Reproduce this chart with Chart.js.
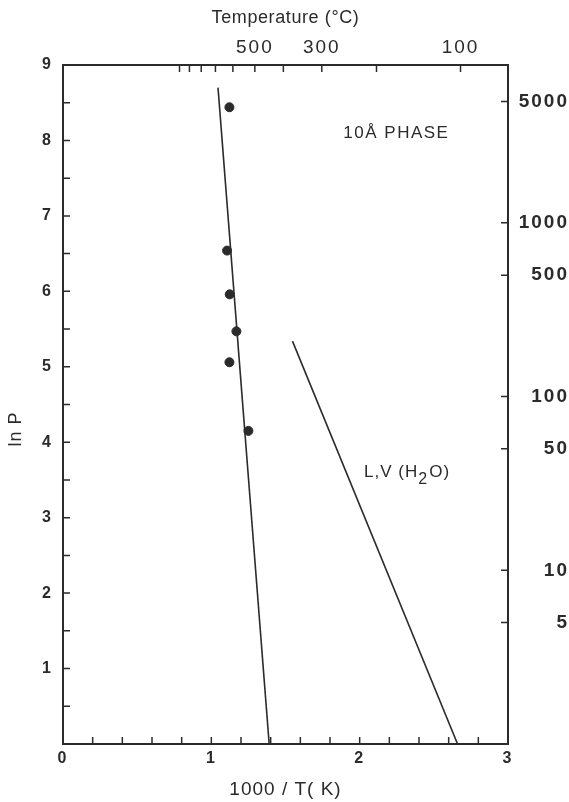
<!DOCTYPE html>
<html>
<head>
<meta charset="utf-8">
<script src="https://cdn.jsdelivr.net/npm/chart.js@4.4.1/dist/chart.umd.min.js"></script>
<style>
  html, body { margin: 0; padding: 0; background: #ffffff; }
  #wrap { width: 569px; height: 802px; position: relative; }
</style>
</head>
<body>
<div id="wrap"><canvas id="c" width="569" height="802"></canvas></div>
<script>
// ---- data ----
const phaseX = [1.122, 1.106, 1.124, 1.169, 1.122, 1.25];   // 1000/T (K) of measured points
const phaseY = [8.44, 6.54, 5.96, 5.47, 5.06, 4.15];        // ln P of measured points
const phaseLineX = [1.045, 1.39];                            // fitted 10Å phase line
const phaseLineY = [8.70, 0];
const waterLineX = [1.547, 2.66];                            // L,V (H2O) curve
const waterLineY = [5.34, 0];
const tempTicksC = [1000, 900, 800, 700, 600, 500, 400, 300, 200, 100]; // top axis ticks (°C)
const tempLabelsC = [500, 300, 100];                         // labelled top ticks
const pressureTicks = [5000, 1000, 500, 100, 50, 10, 5];     // right axis (P)
const lnPLabels = [1, 2, 3, 4, 5, 6, 7, 8, 9];               // left axis labels
const xLabels = [0, 1, 2, 3];                                // bottom axis labels

const INK = '#2b2b2b';
const FONT = "'Liberation Sans', Arial, Helvetica, sans-serif";

const toPts = (xs, ys) => xs.map((x, i) => ({ x: x, y: ys[i] }));
const near = (a, b) => Math.abs(a - b) < 1e-6;

const spacing = {
  id: 'spacing',
  beforeDraw(chart) { chart.ctx.letterSpacing = '2px'; }
};

const inwardTicks = {
  id: 'inwardTicks',
  afterDraw(chart) {
    const ctx = chart.ctx;
    const a = chart.chartArea;
    ctx.save();
    ctx.strokeStyle = INK;
    ctx.lineWidth = 1.5;
    const s = chart.scales;
    const L = 7;
    ctx.beginPath();
    s.x.ticks.forEach(t => {
      const px = s.x.getPixelForValue(t.value);
      if (px <= a.left + 1 || px >= a.right - 1) return;
      ctx.moveTo(px, a.bottom); ctx.lineTo(px, a.bottom - L);
    });
    s.x2.ticks.forEach(t => {
      const px = s.x2.getPixelForValue(t.value);
      ctx.moveTo(px, a.top); ctx.lineTo(px, a.top + L);
    });
    s.y.ticks.forEach(t => {
      const py = s.y.getPixelForValue(t.value);
      if (py <= a.top + 1 || py >= a.bottom - 1) return;
      ctx.moveTo(a.left, py); ctx.lineTo(a.left + L, py);
    });
    s.y2.ticks.forEach(t => {
      const py = s.y2.getPixelForValue(t.value);
      ctx.moveTo(a.right, py); ctx.lineTo(a.right - L, py);
    });
    ctx.stroke();

    ctx.fillStyle = INK;
    ctx.textBaseline = 'middle';

    // axis titles
    ctx.textAlign = 'center';
    ctx.letterSpacing = '0.6px';
    ctx.font = '18px ' + FONT;
    ctx.fillText('Temperature (°C)', (a.left + a.right) / 2, 18);
    ctx.letterSpacing = '1px';
    ctx.font = '19px ' + FONT;
    ctx.fillText('1000 / T( K)', (a.left + a.right) / 2, 790);

    // annotations
    ctx.textAlign = 'left';
    ctx.letterSpacing = '1.5px';
    ctx.font = '17px ' + FONT;
    ctx.fillText('10Å PHASE', s.x.getPixelForValue(1.89), s.y.getPixelForValue(8.1));
    ctx.letterSpacing = '1px';
    let x0 = s.x.getPixelForValue(2.03), y0 = s.y.getPixelForValue(3.6);
    const p1 = 'L,V (H';
    ctx.fillText(p1, x0, y0);
    x0 += ctx.measureText(p1).width;
    ctx.font = '16px ' + FONT;
    ctx.fillText('2', x0, y0 + 7);
    x0 += ctx.measureText('2').width + 1;
    ctx.font = '17px ' + FONT;
    ctx.fillText('O)', x0, y0);

    // left axis title
    ctx.save();
    ctx.translate(16, 429);
    ctx.rotate(-Math.PI / 2);
    ctx.textAlign = 'center';
    ctx.letterSpacing = '1px';
    ctx.font = '18px ' + FONT;
    ctx.fillText('ln P', 0, 0);
    ctx.restore();
    ctx.restore();
  }
};

const tickFont = { family: FONT, size: 16, weight: 'bold' };

new Chart(document.getElementById('c'), {
  type: 'scatter',
  data: {
    datasets: [
      { data: toPts(phaseX, phaseY), pointRadius: 4.5, pointBackgroundColor: INK, pointBorderColor: INK, showLine: false },
      { data: toPts(phaseLineX, phaseLineY), showLine: true, borderColor: INK, borderWidth: 1.6, pointRadius: 0 },
      { data: toPts(waterLineX, waterLineY), showLine: true, borderColor: INK, borderWidth: 1.6, pointRadius: 0 }
    ]
  },
  options: {
    responsive: false,
    animation: false,
    layout: { padding: { left: 0, right: 0, top: 0, bottom: 0 } },
    plugins: { legend: { display: false }, tooltip: { enabled: false } },
    scales: {
      x: {
        type: 'linear', position: 'bottom', min: 0, max: 3,
        grid: { display: false, drawTicks: false },
        border: { display: true, color: INK, width: 2 },
        ticks: {
          stepSize: 0.2, autoSkip: false, maxRotation: 0, padding: 5, color: INK, font: tickFont,
          callback: v => (xLabels.some(l => near(l, v)) ? String(Math.round(v)) : '')
        },
        afterFit: sc => { sc.height = 58; }
      },
      x2: {
        type: 'linear', position: 'top', min: 0, max: 3,
        grid: { display: false, drawTicks: false },
        border: { display: true, color: INK, width: 2 },
        afterBuildTicks: sc => { sc.ticks = tempTicksC.map(t => ({ value: 1000 / (t + 273.15) })); },
        ticks: {
          autoSkip: false, maxRotation: 0, padding: 6, color: INK, font: { family: FONT, size: 19 },
          callback: v => {
            const t = Math.round(1000 / v - 273.15);
            return tempLabelsC.includes(t) ? String(t) : '';
          }
        },
        afterFit: sc => { sc.height = 65; }
      },
      y: {
        type: 'linear', position: 'left', min: 0, max: 9,
        grid: { display: false, drawTicks: false },
        border: { display: true, color: INK, width: 2 },
        ticks: {
          stepSize: 0.5, autoSkip: false, padding: 10, color: INK, font: tickFont,
          callback: v => (lnPLabels.some(l => near(l, v)) ? String(Math.round(v)) : '')
        },
        afterFit: sc => { sc.width = 63; }
      },
      y2: {
        type: 'linear', position: 'right', min: 0, max: 9,
        grid: { display: false, drawTicks: false },
        border: { display: true, color: INK, width: 2 },
        afterBuildTicks: sc => { sc.ticks = pressureTicks.map(p => ({ value: Math.log(p) })); },
        ticks: {
          autoSkip: false, padding: 8, crossAlign: 'far', color: INK, font: { family: FONT, size: 19, weight: 'bold' },
          callback: v => String(Math.round(Math.exp(v)))
        },
        afterFit: sc => { sc.width = 61; }
      }
    }
  },
  plugins: [spacing, inwardTicks]
});
</script>
</body>
</html>
